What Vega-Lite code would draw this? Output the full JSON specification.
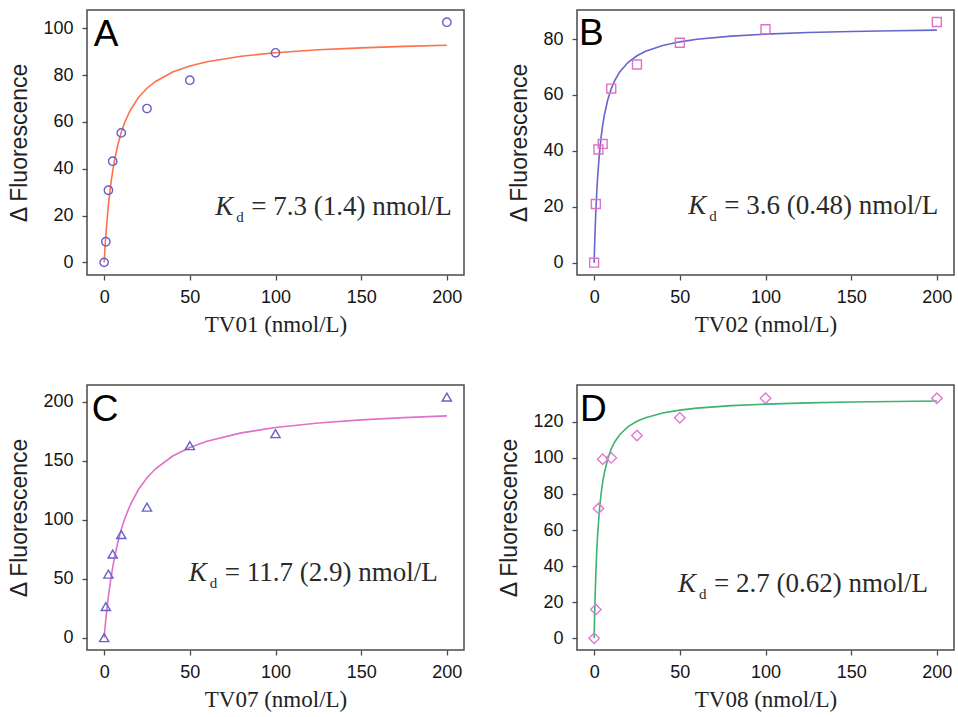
{
  "$schema": "https://vega.github.io/schema/vega-lite/v6.json",
  "background": "white",
  "padding": {"left": 8, "top": 9, "right": 2, "bottom": 2},
  "columns": 2,
  "spacing": {"row": 47, "column": 33},
  "config": {
    "view": {"stroke": "#4a4a4a", "strokeWidth": 1.5},
    "axis": {"grid": false, "domain": false, "ticks": true, "tickColor": "#4a4a4a", "tickSize": 5, "tickWidth": 1.3, "labelFont": "Liberation Sans", "labelFontSize": 18, "labelColor": "#141414", "titleFontWeight": "normal", "titleColor": "#222222"},
    "axisX": {"titleFont": "Liberation Serif", "titleFontSize": 23, "labelPadding": 8, "titlePadding": 7},
    "axisY": {"titleFont": "Liberation Sans", "titleFontSize": 23, "labelPadding": 9, "titlePadding": 11}
  },
  "datasets": {
    "pts": [
      {"panel": "A", "conc": 0, "fl": 0}, {"panel": "A", "conc": 1, "fl": 8.8}, {"panel": "A", "conc": 2.5, "fl": 30.8}, {"panel": "A", "conc": 5, "fl": 43.2}, {"panel": "A", "conc": 10, "fl": 55.3}, {"panel": "A", "conc": 25, "fl": 65.7}, {"panel": "A", "conc": 50, "fl": 77.8}, {"panel": "A", "conc": 100, "fl": 89.5}, {"panel": "A", "conc": 200, "fl": 102.6},
      {"panel": "B", "conc": 0, "fl": 0}, {"panel": "B", "conc": 1, "fl": 21.0}, {"panel": "B", "conc": 2.5, "fl": 40.5}, {"panel": "B", "conc": 5, "fl": 42.5}, {"panel": "B", "conc": 10, "fl": 62.3}, {"panel": "B", "conc": 25, "fl": 70.9}, {"panel": "B", "conc": 50, "fl": 78.7}, {"panel": "B", "conc": 100, "fl": 83.5}, {"panel": "B", "conc": 200, "fl": 86.1},
      {"panel": "C", "conc": 0, "fl": 0}, {"panel": "C", "conc": 1, "fl": 26.3}, {"panel": "C", "conc": 2.5, "fl": 53.8}, {"panel": "C", "conc": 5, "fl": 70.8}, {"panel": "C", "conc": 10, "fl": 87.3}, {"panel": "C", "conc": 25, "fl": 110.5}, {"panel": "C", "conc": 50, "fl": 162.6}, {"panel": "C", "conc": 100, "fl": 172.8}, {"panel": "C", "conc": 200, "fl": 203.8},
      {"panel": "D", "conc": 0, "fl": 0}, {"panel": "D", "conc": 1, "fl": 15.9}, {"panel": "D", "conc": 2.5, "fl": 72.0}, {"panel": "D", "conc": 5, "fl": 99.3}, {"panel": "D", "conc": 10, "fl": 100}, {"panel": "D", "conc": 25, "fl": 112.4}, {"panel": "D", "conc": 50, "fl": 122.2}, {"panel": "D", "conc": 100, "fl": 133}, {"panel": "D", "conc": 200, "fl": 133}
    ],
    "fit": [
      {"panel": "A", "conc": 0, "fl": 0}, {"panel": "A", "conc": 0.5, "fl": 6.16}, {"panel": "A", "conc": 1, "fl": 11.58}, {"panel": "A", "conc": 2, "fl": 20.67}, {"panel": "A", "conc": 3, "fl": 27.99}, {"panel": "A", "conc": 4, "fl": 34.02}, {"panel": "A", "conc": 5, "fl": 39.07}, {"panel": "A", "conc": 6, "fl": 43.35}, {"panel": "A", "conc": 8, "fl": 50.25}, {"panel": "A", "conc": 10, "fl": 55.55}, {"panel": "A", "conc": 12, "fl": 59.75}, {"panel": "A", "conc": 15, "fl": 64.64}, {"panel": "A", "conc": 20, "fl": 70.40}, {"panel": "A", "conc": 25, "fl": 74.38}, {"panel": "A", "conc": 30, "fl": 77.29}, {"panel": "A", "conc": 40, "fl": 81.27}, {"panel": "A", "conc": 50, "fl": 83.86}, {"panel": "A", "conc": 60, "fl": 85.68}, {"panel": "A", "conc": 80, "fl": 88.06}, {"panel": "A", "conc": 100, "fl": 89.56}, {"panel": "A", "conc": 125, "fl": 90.80}, {"panel": "A", "conc": 150, "fl": 91.64}, {"panel": "A", "conc": 175, "fl": 92.25}, {"panel": "A", "conc": 200, "fl": 92.72},
      {"panel": "B", "conc": 0, "fl": 0}, {"panel": "B", "conc": 0.25, "fl": 5.50}, {"panel": "B", "conc": 0.5, "fl": 10.33}, {"panel": "B", "conc": 1, "fl": 18.41}, {"panel": "B", "conc": 1.5, "fl": 24.91}, {"panel": "B", "conc": 2, "fl": 30.25}, {"panel": "B", "conc": 3, "fl": 38.50}, {"panel": "B", "conc": 4, "fl": 44.58}, {"panel": "B", "conc": 5, "fl": 49.24}, {"panel": "B", "conc": 6, "fl": 52.94}, {"panel": "B", "conc": 8, "fl": 58.41}, {"panel": "B", "conc": 10, "fl": 62.28}, {"panel": "B", "conc": 12, "fl": 65.15}, {"panel": "B", "conc": 15, "fl": 68.31}, {"panel": "B", "conc": 20, "fl": 71.78}, {"panel": "B", "conc": 25, "fl": 74.04}, {"panel": "B", "conc": 30, "fl": 75.63}, {"panel": "B", "conc": 40, "fl": 77.71}, {"panel": "B", "conc": 50, "fl": 79.01}, {"panel": "B", "conc": 60, "fl": 79.91}, {"panel": "B", "conc": 80, "fl": 81.05}, {"panel": "B", "conc": 100, "fl": 81.76}, {"panel": "B", "conc": 125, "fl": 82.33}, {"panel": "B", "conc": 150, "fl": 82.71}, {"panel": "B", "conc": 175, "fl": 82.99}, {"panel": "B", "conc": 200, "fl": 83.20},
      {"panel": "C", "conc": 0, "fl": 0}, {"panel": "C", "conc": 0.5, "fl": 8.15}, {"panel": "C", "conc": 1, "fl": 15.65}, {"panel": "C", "conc": 2, "fl": 29.02}, {"panel": "C", "conc": 3, "fl": 40.57}, {"panel": "C", "conc": 4, "fl": 50.65}, {"panel": "C", "conc": 5, "fl": 59.52}, {"panel": "C", "conc": 6, "fl": 67.39}, {"panel": "C", "conc": 8, "fl": 80.73}, {"panel": "C", "conc": 10, "fl": 91.61}, {"panel": "C", "conc": 12, "fl": 100.66}, {"panel": "C", "conc": 15, "fl": 111.69}, {"panel": "C", "conc": 20, "fl": 125.43}, {"panel": "C", "conc": 25, "fl": 135.42}, {"panel": "C", "conc": 30, "fl": 143.02}, {"panel": "C", "conc": 40, "fl": 153.81}, {"panel": "C", "conc": 50, "fl": 161.10}, {"panel": "C", "conc": 60, "fl": 166.36}, {"panel": "C", "conc": 80, "fl": 173.44}, {"panel": "C", "conc": 100, "fl": 177.98}, {"panel": "C", "conc": 125, "fl": 181.79}, {"panel": "C", "conc": 150, "fl": 184.42}, {"panel": "C", "conc": 175, "fl": 186.34}, {"panel": "C", "conc": 200, "fl": 187.81},
      {"panel": "D", "conc": 0, "fl": 0}, {"panel": "D", "conc": 0.1, "fl": 4.76}, {"panel": "D", "conc": 0.25, "fl": 11.30}, {"panel": "D", "conc": 0.5, "fl": 20.83}, {"panel": "D", "conc": 1, "fl": 36.03}, {"panel": "D", "conc": 1.5, "fl": 47.61}, {"panel": "D", "conc": 2, "fl": 56.72}, {"panel": "D", "conc": 3, "fl": 70.16}, {"panel": "D", "conc": 4, "fl": 79.58}, {"panel": "D", "conc": 5, "fl": 86.56}, {"panel": "D", "conc": 6, "fl": 91.93}, {"panel": "D", "conc": 8, "fl": 99.66}, {"panel": "D", "conc": 10, "fl": 104.96}, {"panel": "D", "conc": 12, "fl": 108.82}, {"panel": "D", "conc": 15, "fl": 112.97}, {"panel": "D", "conc": 20, "fl": 117.44}, {"panel": "D", "conc": 25, "fl": 120.31}, {"panel": "D", "conc": 30, "fl": 122.29}, {"panel": "D", "conc": 40, "fl": 124.87}, {"panel": "D", "conc": 50, "fl": 126.47}, {"panel": "D", "conc": 60, "fl": 127.56}, {"panel": "D", "conc": 80, "fl": 128.95}, {"panel": "D", "conc": 100, "fl": 129.80}, {"panel": "D", "conc": 125, "fl": 130.48}, {"panel": "D", "conc": 150, "fl": 130.94}, {"panel": "D", "conc": 175, "fl": 131.28}, {"panel": "D", "conc": 200, "fl": 131.52}
    ],
    "notes": [
      {"panel": "A", "letter": "A", "kd": "= 7.3 (1.4) nmol/L"},
      {"panel": "B", "letter": "B", "kd": "= 3.6 (0.48) nmol/L"},
      {"panel": "C", "letter": "C", "kd": "= 11.7 (2.9) nmol/L"},
      {"panel": "D", "letter": "D", "kd": "= 2.7 (0.62) nmol/L"}
    ]
  },
  "concat": [
    {
      "width": 377, "height": 265,
      "layer": [
        {"data": {"name": "fit"}, "transform": [{"filter": "datum.panel === 'A'"}],
         "mark": {"type": "line", "color": "#ff7048", "strokeWidth": 1.6},
         "encoding": {
           "x": {"field": "conc", "type": "quantitative", "scale": {"domain": [-10, 210], "nice": false, "zero": false}, "axis": {"title": "TV01 (nmol/L)", "values": [0, 50, 100, 150, 200]}},
           "y": {"field": "fl", "type": "quantitative", "scale": {"domain": [-5.4, 107.8], "nice": false, "zero": false}, "axis": {"title": "Δ Fluorescence", "values": [0, 20, 40, 60, 80, 100]}}}},
        {"data": {"name": "pts"}, "transform": [{"filter": "datum.panel === 'A'"}],
         "mark": {"type": "point", "shape": "circle", "filled": false, "color": "#6464c8", "size": 70, "strokeWidth": 1.4, "opacity": 1},
         "encoding": {"x": {"field": "conc", "type": "quantitative"}, "y": {"field": "fl", "type": "quantitative"}}},
        {"data": {"name": "notes"}, "transform": [{"filter": "datum.panel === 'A'"}],
         "mark": {"type": "text", "font": "Liberation Sans", "fontSize": 37, "align": "left", "baseline": "alphabetic", "color": "#000000"},
         "encoding": {"x": {"datum": -6}, "y": {"datum": 92.4}, "text": {"field": "letter"}}},
        {"data": {"name": "notes"}, "transform": [{"filter": "datum.panel === 'A'"}],
         "mark": {"type": "text", "text": "K", "font": "Liberation Serif", "fontStyle": "italic", "fontSize": 27, "align": "right", "baseline": "alphabetic", "dx": -18, "color": "#2a2a2a"},
         "encoding": {"x": {"datum": 85.8}, "y": {"datum": 20.2}}},
        {"data": {"name": "notes"}, "transform": [{"filter": "datum.panel === 'A'"}],
         "mark": {"type": "text", "text": "d", "font": "Liberation Serif", "fontSize": 15, "align": "left", "baseline": "alphabetic", "dx": -15, "dy": 7, "color": "#2a2a2a"},
         "encoding": {"x": {"datum": 85.8}, "y": {"datum": 20.2}}},
        {"data": {"name": "notes"}, "transform": [{"filter": "datum.panel === 'A'"}],
         "mark": {"type": "text", "font": "Liberation Serif", "fontSize": 27, "align": "left", "baseline": "alphabetic", "color": "#2a2a2a"},
         "encoding": {"x": {"datum": 85.8}, "y": {"datum": 20.2}, "text": {"field": "kd"}}}
      ]
    },
    {
      "width": 377, "height": 265,
      "layer": [
        {"data": {"name": "fit"}, "transform": [{"filter": "datum.panel === 'B'"}],
         "mark": {"type": "line", "color": "#6666cc", "strokeWidth": 1.6},
         "encoding": {
           "x": {"field": "conc", "type": "quantitative", "scale": {"domain": [-10, 210], "nice": false, "zero": false}, "axis": {"title": "TV02 (nmol/L)", "values": [0, 50, 100, 150, 200]}},
           "y": {"field": "fl", "type": "quantitative", "scale": {"domain": [-4.4, 90.4], "nice": false, "zero": false}, "axis": {"title": "Δ Fluorescence", "values": [0, 20, 40, 60, 80]}}}},
        {"data": {"name": "pts"}, "transform": [{"filter": "datum.panel === 'B'"}],
         "mark": {"type": "point", "shape": "square", "filled": false, "color": "#e070c8", "size": 80, "strokeWidth": 1.4, "opacity": 1},
         "encoding": {"x": {"field": "conc", "type": "quantitative"}, "y": {"field": "fl", "type": "quantitative"}}},
        {"data": {"name": "notes"}, "transform": [{"filter": "datum.panel === 'B'"}],
         "mark": {"type": "text", "font": "Liberation Sans", "fontSize": 37, "align": "left", "baseline": "alphabetic", "color": "#000000"},
         "encoding": {"x": {"datum": -8.8}, "y": {"datum": 77.9}, "text": {"field": "letter"}}},
        {"data": {"name": "notes"}, "transform": [{"filter": "datum.panel === 'B'"}],
         "mark": {"type": "text", "text": "K", "font": "Liberation Serif", "fontStyle": "italic", "fontSize": 27, "align": "right", "baseline": "alphabetic", "dx": -18, "color": "#2a2a2a"},
         "encoding": {"x": {"datum": 75.9}, "y": {"datum": 17.4}}},
        {"data": {"name": "notes"}, "transform": [{"filter": "datum.panel === 'B'"}],
         "mark": {"type": "text", "text": "d", "font": "Liberation Serif", "fontSize": 15, "align": "left", "baseline": "alphabetic", "dx": -15, "dy": 7, "color": "#2a2a2a"},
         "encoding": {"x": {"datum": 75.9}, "y": {"datum": 17.4}}},
        {"data": {"name": "notes"}, "transform": [{"filter": "datum.panel === 'B'"}],
         "mark": {"type": "text", "font": "Liberation Serif", "fontSize": 27, "align": "left", "baseline": "alphabetic", "color": "#2a2a2a"},
         "encoding": {"x": {"datum": 75.9}, "y": {"datum": 17.4}, "text": {"field": "kd"}}}
      ]
    },
    {
      "width": 377, "height": 265,
      "layer": [
        {"data": {"name": "fit"}, "transform": [{"filter": "datum.panel === 'C'"}],
         "mark": {"type": "line", "color": "#e070c8", "strokeWidth": 1.6},
         "encoding": {
           "x": {"field": "conc", "type": "quantitative", "scale": {"domain": [-10, 210], "nice": false, "zero": false}, "axis": {"title": "TV07 (nmol/L)", "values": [0, 50, 100, 150, 200]}},
           "y": {"field": "fl", "type": "quantitative", "scale": {"domain": [-10.5, 214], "nice": false, "zero": false}, "axis": {"title": "Δ Fluorescence", "values": [0, 50, 100, 150, 200]}}}},
        {"data": {"name": "pts"}, "transform": [{"filter": "datum.panel === 'C'"}],
         "mark": {"type": "point", "shape": "triangle-up", "filled": false, "color": "#6464c8", "size": 85, "strokeWidth": 1.4, "opacity": 1},
         "encoding": {"x": {"field": "conc", "type": "quantitative"}, "y": {"field": "fl", "type": "quantitative"}}},
        {"data": {"name": "notes"}, "transform": [{"filter": "datum.panel === 'C'"}],
         "mark": {"type": "text", "font": "Liberation Sans", "fontSize": 37, "align": "left", "baseline": "alphabetic", "color": "#000000"},
         "encoding": {"x": {"datum": -7.2}, "y": {"datum": 183.5}, "text": {"field": "letter"}}},
        {"data": {"name": "notes"}, "transform": [{"filter": "datum.panel === 'C'"}],
         "mark": {"type": "text", "text": "K", "font": "Liberation Serif", "fontStyle": "italic", "fontSize": 27, "align": "right", "baseline": "alphabetic", "dx": -18, "color": "#2a2a2a"},
         "encoding": {"x": {"datum": 70.4}, "y": {"datum": 47.6}}},
        {"data": {"name": "notes"}, "transform": [{"filter": "datum.panel === 'C'"}],
         "mark": {"type": "text", "text": "d", "font": "Liberation Serif", "fontSize": 15, "align": "left", "baseline": "alphabetic", "dx": -15, "dy": 7, "color": "#2a2a2a"},
         "encoding": {"x": {"datum": 70.4}, "y": {"datum": 47.6}}},
        {"data": {"name": "notes"}, "transform": [{"filter": "datum.panel === 'C'"}],
         "mark": {"type": "text", "font": "Liberation Serif", "fontSize": 27, "align": "left", "baseline": "alphabetic", "color": "#2a2a2a"},
         "encoding": {"x": {"datum": 70.4}, "y": {"datum": 47.6}, "text": {"field": "kd"}}}
      ]
    },
    {
      "width": 377, "height": 265,
      "layer": [
        {"data": {"name": "fit"}, "transform": [{"filter": "datum.panel === 'D'"}],
         "mark": {"type": "line", "color": "#3cb371", "strokeWidth": 1.6},
         "encoding": {
           "x": {"field": "conc", "type": "quantitative", "scale": {"domain": [-10, 210], "nice": false, "zero": false}, "axis": {"title": "TV08 (nmol/L)", "values": [0, 50, 100, 150, 200]}},
           "y": {"field": "fl", "type": "quantitative", "scale": {"domain": [-6.5, 140.4], "nice": false, "zero": false}, "axis": {"title": "Δ Fluorescence", "values": [0, 20, 40, 60, 80, 100, 120]}}}},
        {"data": {"name": "pts"}, "transform": [{"filter": "datum.panel === 'D'"}],
         "mark": {"type": "point", "shape": "diamond", "filled": false, "color": "#e07ad0", "size": 110, "strokeWidth": 1.4, "opacity": 1},
         "encoding": {"x": {"field": "conc", "type": "quantitative"}, "y": {"field": "fl", "type": "quantitative"}}},
        {"data": {"name": "notes"}, "transform": [{"filter": "datum.panel === 'D'"}],
         "mark": {"type": "text", "font": "Liberation Sans", "fontSize": 37, "align": "left", "baseline": "alphabetic", "color": "#000000"},
         "encoding": {"x": {"datum": -8.3}, "y": {"datum": 120.4}, "text": {"field": "letter"}}},
        {"data": {"name": "notes"}, "transform": [{"filter": "datum.panel === 'D'"}],
         "mark": {"type": "text", "text": "K", "font": "Liberation Serif", "fontStyle": "italic", "fontSize": 27, "align": "right", "baseline": "alphabetic", "dx": -18, "color": "#2a2a2a"},
         "encoding": {"x": {"datum": 70.0}, "y": {"datum": 25.9}}},
        {"data": {"name": "notes"}, "transform": [{"filter": "datum.panel === 'D'"}],
         "mark": {"type": "text", "text": "d", "font": "Liberation Serif", "fontSize": 15, "align": "left", "baseline": "alphabetic", "dx": -15, "dy": 7, "color": "#2a2a2a"},
         "encoding": {"x": {"datum": 70.0}, "y": {"datum": 25.9}}},
        {"data": {"name": "notes"}, "transform": [{"filter": "datum.panel === 'D'"}],
         "mark": {"type": "text", "font": "Liberation Serif", "fontSize": 27, "align": "left", "baseline": "alphabetic", "color": "#2a2a2a"},
         "encoding": {"x": {"datum": 70.0}, "y": {"datum": 25.9}, "text": {"field": "kd"}}}
      ]
    }
  ]
}
